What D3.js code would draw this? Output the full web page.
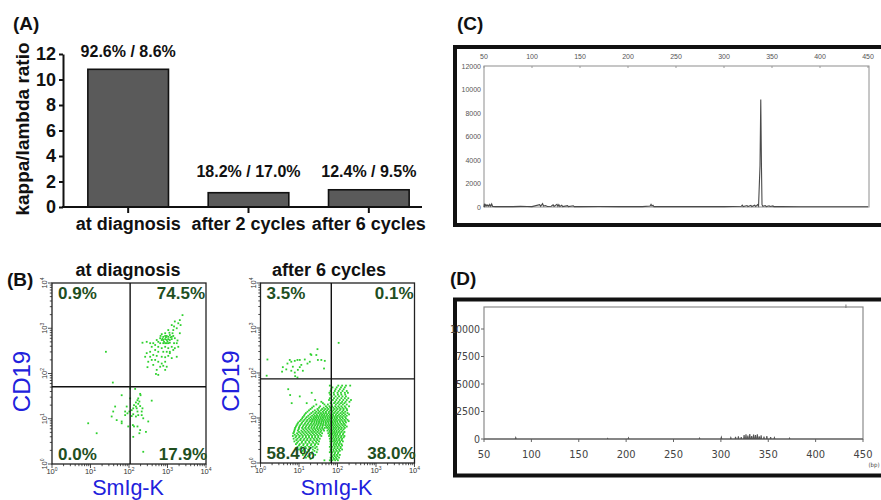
<!DOCTYPE html>
<html><head><meta charset="utf-8">
<script src="https://cdn.jsdelivr.net/npm/d3@7"></script>
<style>body{margin:0;background:#fff}svg{display:block}</style>
</head><body><svg id="c" width="881" height="500"></svg>
<script>
// ---------- DATA ----------
const aCategories = ["at diagnosis", "after 2 cycles", "after 6 cycles"];
const aRatios = [10.8, 1.12, 1.35];
const aPctLabels = ["92.6% / 8.6%", "18.2% / 17.0%", "12.4% / 9.5%"];
const aTicks = [0, 2, 4, 6, 8, 10, 12];

const bTitles = ["at diagnosis", "after 6 cycles"];
const bQuadPct = [["0.9%", "74.5%", "0.0%", "17.9%"], ["3.5%", "0.1%", "58.4%", "38.0%"]];
const bGates = [[107, 51], [69, 74]];           // [SmIg-K gate, CD19 gate]
const bDecades = [1, 10, 100, 1000, 10000];
// points in log10 units [SmIg-K, CD19]
const diagPts = [[3.39,3.29],[3.32,3.18],[3.28,3.11],[3.19,3.15],[3.11,3.07],[3.24,3.00],[3.15,2.96],[3.02,2.96],[2.94,2.89],[2.85,2.87],[2.89,2.81],[2.98,2.83],[3.06,2.85],[3.15,2.83],[3.19,2.78],[3.11,2.76],[3.02,2.76],[2.94,2.76],[2.85,2.74],[2.76,2.70],[2.81,2.67],[2.89,2.67],[2.98,2.67],[3.06,2.68],[3.24,2.67],[3.28,2.59],[3.19,2.56],[3.11,2.59],[3.02,2.56],[2.94,2.59],[2.85,2.56],[2.76,2.59],[2.68,2.63],[2.55,2.67],[2.46,2.70],[2.35,2.68],[2.59,2.59],[2.68,2.52],[2.76,2.48],[2.89,2.48],[2.98,2.48],[3.06,2.45],[3.15,2.52],[2.55,2.48],[2.46,2.45],[2.63,2.41],[2.72,2.39],[2.85,2.37],[2.94,2.36],[3.02,2.39],[2.94,2.26],[2.85,2.22],[2.76,2.26],[2.68,2.30],[2.59,2.30],[2.50,2.26],[2.63,2.19],[2.81,2.15],[2.89,2.17],[2.72,2.08],[2.76,1.97],[2.70,1.99],[2.48,2.14],[2.98,2.15],[2.94,2.08],[3.11,2.34],[3.24,2.37],[3.02,2.67],[3.08,2.80],[2.96,2.80],[2.87,2.77],[3.05,2.90],[3.13,2.89],[3.17,3.04],[3.34,3.07],[2.81,2.78],[2.72,2.74],[2.91,2.70],[3.00,2.71],[2.63,2.67],[2.55,2.37],[2.42,2.37],[3.06,2.48],[3.17,2.67],[3.26,2.73],[3.32,2.89],[2.94,2.83],[3.02,2.81],[3.11,2.81],[2.89,2.74],[2.98,2.74],[3.06,2.74],[2.82,2.83],[2.94,2.67],
[1.40,2.48],[1.58,1.80],
[2.03,1.67],[2.16,1.66],[1.81,1.52],[2.29,1.55],[2.03,1.45],[2.22,1.41],[2.27,1.38],[2.24,1.33],[2.29,1.28],[2.18,1.27],[2.11,1.23],[2.07,1.19],[2.01,1.16],[2.22,1.16],[2.11,1.10],[1.96,1.12],[1.90,1.16],[1.64,1.27],[1.59,1.16],[2.35,1.23],[2.59,1.40],[2.24,1.08],[2.18,1.05],[2.33,1.08],[1.55,1.05],[1.68,0.97],[1.81,0.94],[1.98,0.83],[2.10,0.86],[2.13,0.83],[2.22,0.83],[2.29,0.75],[2.50,0.94],[2.27,0.68],[2.11,0.60],[1.81,0.90],[2.37,1.01],[1.94,1.27],[1.90,1.08],[0.94,0.90],[1.16,0.68],[2.37,0.27],[2.30,1.52],[2.24,1.45],[2.18,1.36],[2.13,1.30],[2.07,1.06],[2.20,1.23],[2.33,1.16],[2.44,0.71]];
const cyc6Sparse = [[0.18,2.30],[0.58,2.13],[0.56,2.03],[0.70,2.21],[0.76,2.29],[0.80,2.25],[0.84,2.14],[0.89,2.27],[0.96,2.29],[1.02,2.29],[1.06,2.18],[1.15,2.30],[1.22,2.21],[1.28,2.25],[1.32,2.40],[1.48,2.53],[1.45,2.40],[1.49,2.29],[1.58,2.29],[1.67,2.27],[1.65,2.10],[1.30,2.42],[0.97,2.07],[0.89,2.01],[1.02,2.13],[0.67,2.08],[1.10,2.05],[0.80,2.05],[0.96,1.90],[0.90,1.93],[2.03,2.67],[0.16,1.94],[0.81,1.33],[0.77,1.51]];
// dense region of "after 6 cycles", rows of [CD19, [SmIg-K ...]] in log10 units
const cyc6Rows = [
[1.72,[1.80,2.02,2.12,2.22,2.33]],
[1.68,[1.87,1.98,2.09,2.19]],
[1.64,[1.84,1.95,2.06,2.16,0.72]],
[1.60,[1.82,1.93,2.03,2.13,2.24]],
[1.56,[1.33,1.79,1.90,2.00,2.09,2.19,2.27]],
[1.52,[1.81,1.91,2.01,2.10,2.20]],
[1.48,[1.85,1.95,2.04,2.13,2.22,1.02]],
[1.44,[1.80,1.91,2.00,2.10,2.19,2.28]],
[1.40,[1.42,1.78,1.88,1.97,2.06,2.15,2.24,2.35]],
[1.36,[1.58,1.84,1.94,2.03,2.12,2.21,2.31]],
[1.33,[1.62,1.82,1.91,2.00,2.09,2.18,1.20]],
[1.30,[1.45,1.66,1.75,1.85,1.96,2.05,2.14,2.24]],
[1.26,[1.38,1.55,1.70,1.79,1.86,1.94,2.02,2.10,2.19,2.30]],
[1.23,[1.34,1.52,1.64,1.73,1.81,1.89,1.97,2.05,2.13,2.21]],
[1.20,[1.30,1.48,1.60,1.68,1.76,1.84,1.92,2.00,2.08,2.16,2.24]],
[1.17,[1.26,1.41,1.50,1.57,1.65,1.73,1.81,1.89,1.97,2.06,2.15,2.25]],
[1.14,[1.22,1.36,1.45,1.53,1.62,1.70,1.78,1.86,1.94,2.02,2.12,2.20]],
[1.11,[1.18,1.32,1.42,1.50,1.57,1.64,1.70,1.77,1.84,1.91,1.99,2.08,2.16,2.26]],
[1.08,[1.15,1.28,1.38,1.46,1.54,1.60,1.66,1.73,1.80,1.88,1.96,2.04,2.12,2.20,2.30]],
[1.05,[1.13,1.24,1.34,1.41,1.47,1.53,1.59,1.65,1.71,1.77,1.83,1.89,1.95,2.01,2.08,2.16,2.24]],
[1.02,[1.10,1.20,1.30,1.38,1.44,1.50,1.56,1.62,1.68,1.74,1.80,1.86,1.92,1.98,2.05,2.12,2.20]],
[0.99,[1.08,1.17,1.26,1.33,1.39,1.45,1.51,1.57,1.63,1.69,1.75,1.81,1.87,1.93,1.99,2.07,2.14,2.22]],
[0.96,[1.05,1.14,1.22,1.30,1.36,1.42,1.48,1.54,1.60,1.66,1.72,1.78,1.84,1.90,1.96,2.03,2.10,2.18,2.26]],
[0.93,[1.02,1.11,1.20,1.28,1.34,1.40,1.46,1.52,1.58,1.63,1.69,1.75,1.81,1.87,1.93,1.99,2.06,2.13,2.20,2.29]],
[0.90,[0.98,1.08,1.17,1.25,1.33,1.40,1.46,1.52,1.58,1.64,1.70,1.76,1.82,1.88,1.94,2.00,2.07,2.15,2.22]],
[0.87,[0.96,1.06,1.15,1.23,1.31,1.38,1.45,1.51,1.57,1.63,1.70,1.77,1.83,1.89,1.95,2.02,2.10,2.17]],
[0.84,[0.94,1.03,1.12,1.20,1.28,1.35,1.42,1.49,1.56,1.62,1.68,1.74,1.80,1.86,1.92,1.98,2.05,2.13,2.20]],
[0.81,[0.92,1.01,1.10,1.18,1.26,1.33,1.40,1.47,1.54,1.61,1.71,1.77,1.83,1.89,1.95,2.01,2.08,2.16,2.24]],
[0.78,[0.90,1.00,1.08,1.16,1.24,1.32,1.39,1.46,1.53,1.60,1.67,1.73,1.79,1.85,1.91,1.97,2.04,2.11,2.19]],
[0.75,[0.89,0.99,1.11,1.19,1.27,1.35,1.42,1.49,1.56,1.63,1.77,1.83,1.89,1.95,2.02,2.09,2.16]],
[0.72,[0.88,0.97,1.06,1.14,1.22,1.30,1.37,1.44,1.51,1.58,1.65,1.74,1.80,1.86,1.92,1.98,2.05,2.13]],
[0.69,[0.87,1.00,1.09,1.17,1.25,1.33,1.40,1.48,1.56,1.79,1.85,1.91,1.97,2.03,2.10,2.18]],
[0.66,[0.85,0.95,1.04,1.12,1.20,1.28,1.36,1.44,1.52,1.60,1.76,1.82,1.88,1.94,2.00,2.07,2.15]],
[0.63,[0.89,0.98,1.07,1.15,1.23,1.31,1.39,1.47,1.55,1.80,1.87,1.93,1.99,2.06,2.14]],
[0.60,[0.84,0.93,1.02,1.10,1.18,1.26,1.34,1.42,1.50,1.58,1.78,1.84,1.90,1.96,2.03,2.10,2.18]],
[0.57,[0.91,1.00,1.09,1.18,1.26,1.34,1.42,1.50,1.83,1.89,1.95,2.02,2.09,2.16]],
[0.54,[0.86,0.96,1.05,1.14,1.22,1.30,1.38,1.46,1.54,1.80,1.86,1.92,1.98,2.05,2.12]],
[0.51,[0.93,1.03,1.12,1.21,1.30,1.40,1.48,1.84,1.91,1.97,2.04,2.11]],
[0.48,[0.88,0.98,1.08,1.17,1.26,1.35,1.44,1.52,1.81,1.88,1.94,2.00,2.07,2.14]],
[0.45,[0.95,1.07,1.17,1.27,1.37,1.46,1.84,1.92,1.99,2.06]],
[0.42,[0.92,1.02,1.12,1.22,1.32,1.42,1.50,1.82,1.90,1.96,2.03,2.10]],
[0.39,[1.00,1.11,1.21,1.31,1.41,1.83,1.90,1.97,2.04,2.12]],
[0.36,[0.96,1.06,1.16,1.26,1.36,1.46,1.80,1.86,1.93,2.00,2.08]],
[0.33,[1.04,1.18,1.30,1.42,1.84,1.92,2.00,2.08]],
[0.30,[1.00,1.12,1.24,1.36,1.48,1.82,1.89,1.96,2.04,2.12]],
[0.27,[1.10,1.26,1.40,1.83,1.90,1.98,2.06]],
[0.24,[1.06,1.20,1.34,1.46,1.80,1.87,1.94,2.02]],
[0.21,[1.15,1.33,1.85,1.93,2.01]],
[0.18,[1.10,1.28,1.42,1.84,1.91,1.98,2.06]],
[0.15,[1.23,1.86,1.93,2.00]],
[0.12,[1.18,1.36,1.82,1.89,1.96,2.04]],
[0.09,[1.30,1.84,1.91,1.98]],
[0.06,[1.66,1.80,1.87,1.94,2.01]]
];

const cXTicks = [50, 100, 150, 200, 250, 300, 350, 400, 450];
const cYTicks = [0, 2000, 4000, 6000, 8000, 10000, 12000];
const cTrace = [[50,0],[50.5,280],[51,60],[52,200],[53,80],[54,180],[55,60],[56,220],[57,70],[58,260],[59,40],[62,30],[70,40],[80,30],[88,50],[95,40],[100,30],[108,200],[109,60],[111,280],[112,80],[114,120],[116,40],[120,60],[122,180],[123,50],[126,230],[127,60],[128,200],[129,50],[131,150],[132,40],[137,120],[138,30],[143,100],[144,30],[150,30],[170,40],[190,30],[200,30],[215,30],[223,80],[224,220],[225,90],[226,150],[227,30],[240,30],[270,30],[300,30],[318,60],[319,150],[320,40],[324,120],[325,40],[328,140],[329,40],[332,150],[333,40],[335,200],[336,80],[337.5,3500],[338.3,9150],[339,3600],[339.6,200],[340.5,60],[343,120],[344,40],[347,100],[348,40],[351,90],[352,30],[360,30],[380,20],[450,20]];

const dXTicks = [50, 100, 150, 200, 250, 300, 350, 400, 450];
const dYTicks = [0, 2500, 5000, 7500, 10000];
const dTrace = [[50,0],[83,0],[83.5,120],[84,0],[180,0],[180.5,60],[181,0],[202,0],[202.5,100],[203,0],[277,0],[277.5,80],[278,0],[300,0],[300.5,150],[301,0],[310,0],[310.5,120],[311,0],[315,0],[315.5,200],[316,0],[318,0],[318.5,250],[319,0],[321,0],[321.5,180],[322,0],[324,0],[324.5,350],[325,0],[326,0],[326.5,420],[327,0],[328,0],[328.5,300],[329,0],[330,0],[330.5,450],[331,0],[332,0],[332.5,260],[333,0],[334,0],[334.5,400],[335,0],[336,0],[336.5,350],[337,0],[338,0],[338.5,420],[339,0],[340,0],[340.5,250],[341,0],[342,0],[342.5,330],[343,0],[345,0],[345.5,220],[346,0],[348,0],[348.5,260],[349,0],[352,0],[352.5,180],[353,0],[356,0],[356.5,120],[357,0],[372,0],[372.5,80],[373,0],[450,0]];

// ---------- DRAW ----------
const svg = d3.select("#c");
const F = "'Liberation Sans', Arial, sans-serif";

[["(A)", 13, 30], ["(B)", 7, 286], ["(C)", 457, 30], ["(D)", 450, 285]].forEach(([t, x, y]) =>
  svg.append("text").attr("x", x).attr("y", y).text(t)
    .attr("font-family", F).attr("font-weight", "bold").attr("font-size", 19).attr("fill", "#111"));

// ===== Panel A =====
const ya = d3.scaleLinear().domain([0, 12]).range([207, 54]);
const xa = d3.scaleBand().domain(aCategories).range([68, 429]).paddingInner(0.33).paddingOuter(0.165);
const gA = svg.append("g");
gA.selectAll("rect.bar").data(aRatios).join("rect").attr("class", "bar")
  .attr("x", (d, i) => xa(aCategories[i])).attr("y", d => ya(d))
  .attr("width", xa.bandwidth()).attr("height", d => ya(0) - ya(d))
  .attr("fill", "#5a5a5a").attr("stroke", "#111").attr("stroke-width", 1.6);
gA.append("g").attr("transform", "translate(63,0)")
  .call(d3.axisLeft(ya).tickValues(aTicks).tickSize(4).tickSizeOuter(0).tickPadding(3))
  .call(g => {
    g.select(".domain").attr("stroke", "#111").attr("stroke-width", 2);
    g.selectAll(".tick line").attr("stroke", "#111").attr("stroke-width", 2);
    g.selectAll(".tick text").attr("font-family", F).attr("font-weight", "bold").attr("font-size", 18).attr("fill", "#111");
  });
gA.append("line").attr("x1", 62).attr("x2", 422).attr("y1", ya(0)).attr("y2", ya(0)).attr("stroke", "#111").attr("stroke-width", 2);
aCategories.forEach((c, i) => {
  const cx = xa(c) + xa.bandwidth() / 2;
  gA.append("line").attr("x1", cx).attr("x2", cx).attr("y1", ya(0)).attr("y2", ya(0) + 6).attr("stroke", "#111").attr("stroke-width", 2);
  gA.append("text").attr("x", cx).attr("y", 230).attr("text-anchor", "middle").text(c)
    .attr("font-family", F).attr("font-weight", "bold").attr("font-size", 18).attr("fill", "#111");
  gA.append("text").attr("x", cx).attr("y", ya(Math.max(aRatios[i], 1.4)) - 12).attr("text-anchor", "middle").text(aPctLabels[i])
    .attr("font-family", F).attr("font-weight", "bold").attr("font-size", 16).attr("fill", "#111");
});
gA.append("text").attr("transform", "translate(29,129) rotate(-90)").attr("text-anchor", "middle")
  .text("kappa/lambda ratio").attr("font-family", F).attr("font-weight", "bold").attr("font-size", 19).attr("fill", "#111");

// ===== Panel B =====
function flow(idx, pts, box, titleX) {
  const x = d3.scaleLog().domain([1, 1e4]).range([box.x0, box.x1]);
  const y = d3.scaleLog().domain([1, 1e4]).range([box.y0, box.y1]);
  const g = svg.append("g");
  g.selectAll("rect.pt").data(pts).join("rect").attr("class", "pt")
    .attr("x", d => x(10 ** d[0]) - 0.9).attr("y", d => y(10 ** d[1]) - 0.9)
    .attr("width", 1.8).attr("height", 1.8).attr("fill", "#2ed12e");
  g.append("rect").attr("x", box.x0).attr("y", box.y1).attr("width", box.x1 - box.x0).attr("height", box.y0 - box.y1)
    .attr("fill", "none").attr("stroke", "#222").attr("stroke-width", 1.3);
  const [gx, gy] = bGates[idx];
  g.append("line").attr("x1", x(gx)).attr("x2", x(gx)).attr("y1", box.y1).attr("y2", box.y0).attr("stroke", "#111").attr("stroke-width", 1.4);
  g.append("line").attr("x1", box.x0).attr("x2", box.x1).attr("y1", y(gy)).attr("y2", y(gy)).attr("stroke", "#111").attr("stroke-width", 1.4);
  x.ticks().forEach(v => {
    const major = bDecades.includes(v);
    g.append("line").attr("x1", x(v)).attr("x2", x(v)).attr("y1", box.y0).attr("y2", box.y0 + (major ? 4 : 2.2)).attr("stroke", "#222").attr("stroke-width", 0.8);
  });
  y.ticks().forEach(v => {
    const major = bDecades.includes(v);
    g.append("line").attr("y1", y(v)).attr("y2", y(v)).attr("x1", box.x0).attr("x2", box.x0 - (major ? 4 : 2.2)).attr("stroke", "#222").attr("stroke-width", 0.8);
  });
  bDecades.forEach((v, k) => {
    const tx = g.append("text").attr("x", x(v)).attr("y", box.y0 + 10).attr("text-anchor", "middle")
      .attr("font-family", F).attr("font-size", 7.5).attr("fill", "#333");
    tx.append("tspan").text("10");
    tx.append("tspan").attr("dy", -3).attr("font-size", 5).text(k);
    const ty = g.append("text").attr("transform", `translate(${box.x0 - 5},${y(v)}) rotate(-90)`).attr("text-anchor", "middle")
      .attr("font-family", F).attr("font-size", 7.5).attr("fill", "#333");
    ty.append("tspan").text("10");
    ty.append("tspan").attr("dy", -3).attr("font-size", 5).text(k);
  });
  const pct = bQuadPct[idx];
  const pf = s => s.attr("font-family", F).attr("font-weight", "bold").attr("font-size", 17).attr("fill", "#1f4f1f");
  pf(g.append("text").attr("x", box.x0 + 6).attr("y", box.y1 + 16).text(pct[0]));
  pf(g.append("text").attr("x", box.x1 - 1).attr("y", box.y1 + 16).attr("text-anchor", "end").text(pct[1]));
  pf(g.append("text").attr("x", box.x0 + 6).attr("y", box.y0 - 4).text(pct[2]));
  pf(g.append("text").attr("x", box.x1 + 1).attr("y", box.y0 - 4).attr("text-anchor", "end").text(pct[3]));
  g.append("text").attr("x", titleX).attr("y", 276).attr("text-anchor", "middle").text(bTitles[idx])
    .attr("font-family", F).attr("font-weight", "bold").attr("font-size", 18).attr("fill", "#111");
  g.append("text").attr("transform", `translate(${box.x0 - 22},${(box.y0 + box.y1) / 2 + 8}) rotate(-90)`).attr("text-anchor", "middle")
    .text("CD19").attr("font-family", F).attr("font-size", 24).attr("fill", "#2121dc");
  g.append("text").attr("x", (box.x0 + box.x1) / 2 - 1).attr("y", 495).attr("text-anchor", "middle")
    .text("SmIg-K").attr("font-family", F).attr("font-size", 21.5).attr("fill", "#2121dc");
}
const cyc6Pts = cyc6Sparse.concat(cyc6Rows.flatMap(([yy, xs]) => xs.map(xx => [xx, yy])));
flow(0, diagPts, {x0: 52, x1: 206, y0: 464, y1: 283}, 128);
flow(1, cyc6Pts, {x0: 260.5, x1: 414.5, y0: 463, y1: 283}, 329);

// ===== Panel C =====
const xc = d3.scaleLinear().domain([50, 450]).range([484, 868]);
const yc = d3.scaleLinear().domain([0, 12000]).range([207, 66]);
const gC = svg.append("g");
gC.append("rect").attr("x", 455).attr("y", 47).attr("width", 440).attr("height", 178).attr("fill", "none").attr("stroke", "#111").attr("stroke-width", 4);
gC.append("rect").attr("x", xc(50)).attr("y", yc(12000)).attr("width", xc(450) - xc(50) + 1).attr("height", yc(0) - yc(12000))
  .attr("fill", "none").attr("stroke", "#8e8e8e").attr("stroke-width", 1);
cXTicks.forEach(v => {
  gC.append("text").attr("x", xc(v)).attr("y", 59).attr("text-anchor", "middle").text(v)
    .attr("font-family", F).attr("font-size", 7).attr("fill", "#555");
  gC.append("line").attr("x1", xc(v)).attr("x2", xc(v)).attr("y1", yc(12000)).attr("y2", yc(12000) + 2).attr("stroke", "#999");
});
cYTicks.forEach(v => {
  gC.append("text").attr("x", 481).attr("y", yc(v) + 2.5).attr("text-anchor", "end").text(v)
    .attr("font-family", F).attr("font-size", 7).attr("fill", "#555");
});
gC.append("path").datum(cTrace).attr("d", d3.line().x(d => xc(d[0])).y(d => yc(d[1])))
  .attr("fill", "none").attr("stroke", "#4a4a4a").attr("stroke-width", 1.1);

// ===== Panel D =====
const xd = d3.scaleLinear().domain([50, 450]).range([484, 863]);
const yd = d3.scaleLinear().domain([0, 12000]).range([439, 307]);
const gD = svg.append("g");
const NF = "'Liberation Sans Narrow', 'DejaVu Sans Condensed', 'Liberation Sans', sans-serif";
gD.append("rect").attr("x", 455).attr("y", 299.5).attr("width", 440).attr("height", 176).attr("fill", "none").attr("stroke", "#111").attr("stroke-width", 4);
gD.append("rect").attr("x", xd(50)).attr("y", yd(12000)).attr("width", xd(450) - xd(50)).attr("height", yd(0) - yd(12000))
  .attr("fill", "none").attr("stroke", "#8a8a8a").attr("stroke-width", 1.2);
gD.append("line").attr("x1", xd(432)).attr("x2", xd(432)).attr("y1", yd(12000) - 2.5).attr("y2", yd(12000) + 1).attr("stroke", "#777");
dXTicks.forEach(v => {
  gD.append("line").attr("x1", xd(v)).attr("x2", xd(v)).attr("y1", yd(0)).attr("y2", yd(0) + 3).attr("stroke", "#666");
  gD.append("text").attr("x", xd(v)).attr("y", 458).attr("text-anchor", "middle").text(v)
    .attr("font-family", NF).attr("font-size", 11).attr("fill", "#444");
});
gD.append("text").attr("x", 879.5).attr("y", 467).attr("text-anchor", "end").text("(bp)")
  .attr("font-family", NF).attr("font-size", 6).attr("fill", "#444");
dYTicks.forEach(v => {
  gD.append("line").attr("x1", xd(50) - 3).attr("x2", xd(50)).attr("y1", yd(v)).attr("y2", yd(v)).attr("stroke", "#666");
  gD.append("text").attr("x", 480).attr("y", yd(v) + 3.5).attr("text-anchor", "end").text(v)
    .attr("font-family", NF).attr("font-size", 10.5).attr("fill", "#444");
});
gD.append("path").datum(dTrace).attr("d", d3.line().x(d => xd(d[0])).y(d => yd(d[1])))
  .attr("fill", "none").attr("stroke", "#555").attr("stroke-width", 1.1);
</script></body></html>
